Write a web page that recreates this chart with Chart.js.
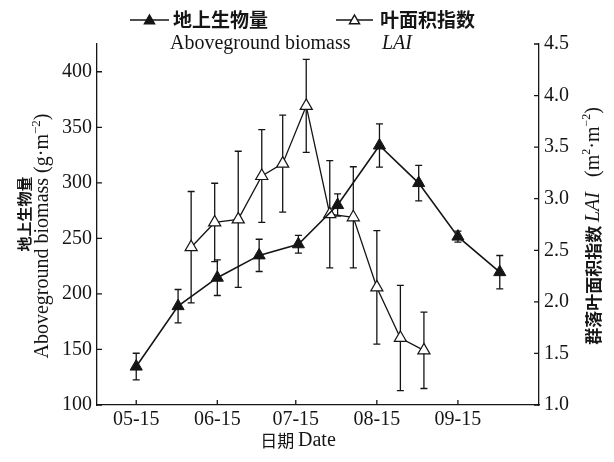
<!DOCTYPE html>
<html>
<head>
<meta charset="utf-8">
<script src="https://cdn.jsdelivr.net/npm/chart.js@4/dist/chart.umd.min.js"></script>
<style>
  html, body { margin:0; padding:0; background:#fff; }
  #wrap { width:614px; height:462px; }
</style>
</head>
<body>
<div id="wrap"><canvas id="cv" width="614" height="462"></canvas></div>
<script>

// day of year for each sampling date
const biomassDays = [135, 151, 166, 182, 197, 212, 228, 243, 258, 274]
const biomassVals = [134.6, 189, 214.6, 234.7, 244.7, 280, 333.6, 299.8, 251.6, 219.6]
const biomassErr  = [12, 15, 16, 14.5, 8, 10, 19.5, 16, 5, 15]

const laiDays = [156, 165, 174, 183, 191, 200, 209, 218, 227, 236, 245]
const laiVals = [2.53, 2.77, 2.80, 3.22, 3.34, 3.90, 2.85, 2.82, 2.14, 1.65, 1.53]
const laiErr  = [0.54, 0.38, 0.66, 0.45, 0.47, 0.45, 0.52, 0.49, 0.55, 0.51, 0.37]

const xTickDays   = [135, 166, 196, 227, 258]
const xTickLabels = ['05-15', '06-15', '07-15', '08-15', '09-15']

const SERIF = '"Liberation Serif", "DejaVu Serif", serif'
const CJK   = '"Noto Sans CJK SC", "Noto Sans", sans-serif'
const INK   = '#151515'


function toPoints(days, vals){
      return days.map((d, i) => ({ x: d, y: vals[i] }))
}


// draw a row of text runs, each with its own font and baseline shift
function drawRuns(ctx, runs, x, y, align){
      let total = 0
      runs.forEach((r)=>{ ctx.font = r.font; r.w = ctx.measureText(r.text).width; total += r.w })
      let cx = align === 'center' ? x - total/2 : x
      ctx.textBaseline = 'middle'
      ctx.textAlign = 'left'
      runs.forEach((r)=>{
            ctx.font = r.font
            ctx.fillText(r.text, cx, y + (r.dy || 0))
            cx += r.w
      })
}


function legendMark(ctx, x0, x1, y, filled){
      ctx.beginPath()
      ctx.moveTo(x0, y); ctx.lineTo(x1, y)
      ctx.stroke()
      const cx = (x0 + x1)/2, s = 5
      ctx.beginPath()
      ctx.moveTo(cx, y - s)
      ctx.lineTo(cx + s, y + s*0.75)
      ctx.lineTo(cx - s, y + s*0.75)
      ctx.closePath()
      ctx.fillStyle = filled ? INK : '#fff'
      ctx.fill()
      ctx.stroke()
      ctx.fillStyle = INK
}


const errorBars = {
      id: 'errorBars',
      beforeDatasetsDraw(chart){
            const ctx = chart.ctx
            ctx.save()
            ctx.strokeStyle = INK
            ctx.lineWidth = 1.3
            chart.data.datasets.forEach((ds, di)=>{
                  const meta = chart.getDatasetMeta(di)
                  const yScale = chart.scales[meta.yAxisID]
                  meta.data.forEach((pt, i)=>{
                        const v = ds.data[i].y, e = ds.errors[i]
                        const top = yScale.getPixelForValue(v + e)
                        const bot = yScale.getPixelForValue(v - e)
                        ctx.beginPath()
                        ctx.moveTo(pt.x, top); ctx.lineTo(pt.x, bot)
                        ctx.moveTo(pt.x - 3.5, top); ctx.lineTo(pt.x + 3.5, top)
                        ctx.moveTo(pt.x - 3.5, bot); ctx.lineTo(pt.x + 3.5, bot)
                        ctx.stroke()
                  })
            })
            ctx.restore()
      }
}


// inward tick marks, legend and axis titles
const decorations = {
      id: 'decorations',
      afterDraw(chart){
            const ctx = chart.ctx
            const a = chart.chartArea
            const sx = chart.scales.x, sl = chart.scales.yL, sr = chart.scales.yR
            ctx.save()
            ctx.strokeStyle = INK
            ctx.fillStyle = INK
            ctx.lineWidth = 1.3

            ctx.beginPath()
            sx.ticks.forEach((t)=>{ const p = sx.getPixelForValue(t.value); ctx.moveTo(p, a.bottom); ctx.lineTo(p, a.bottom - 5) })
            sl.ticks.forEach((t)=>{ const p = sl.getPixelForValue(t.value); ctx.moveTo(a.left, p); ctx.lineTo(a.left + 5, p) })
            sr.ticks.forEach((t)=>{ const p = sr.getPixelForValue(t.value); ctx.moveTo(a.right, p); ctx.lineTo(a.right - 5, p) })
            ctx.stroke()

            // legend
            ctx.lineWidth = 1.5
            legendMark(ctx, 130, 169, 20, true)
            legendMark(ctx, 336, 373, 20, false)
            drawRuns(ctx, [{ text: '地上生物量', font: 'bold 19px ' + CJK }], 173, 20)
            drawRuns(ctx, [{ text: '叶面积指数', font: 'bold 19px ' + CJK }], 380, 20)
            drawRuns(ctx, [{ text: 'Aboveground biomass', font: '20px ' + SERIF }], 170, 44)
            drawRuns(ctx, [{ text: 'LAI', font: 'italic 20px ' + SERIF }], 382, 44)

            // x title
            drawRuns(ctx, [
                  { text: '日期 ', font: '17px ' + CJK },
                  { text: 'Date', font: '20px ' + SERIF }
            ], 298, 441, 'center')

            // left titles
            ctx.save()
            ctx.translate(24, 214); ctx.rotate(-Math.PI/2)
            drawRuns(ctx, [{ text: '地上生物量', font: 'bold 15px ' + CJK }], 0, 0, 'center')
            ctx.restore()

            ctx.save()
            ctx.translate(43, 236); ctx.rotate(-Math.PI/2)
            drawRuns(ctx, [
                  { text: 'Aboveground biomass (g·m', font: '20px ' + SERIF },
                  { text: '−2', font: '13px ' + SERIF, dy: -6 },
                  { text: ')', font: '20px ' + SERIF }
            ], 0, 0, 'center')
            ctx.restore()

            // right title
            ctx.save()
            ctx.translate(594, 226); ctx.rotate(-Math.PI/2)
            drawRuns(ctx, [
                  { text: '群落叶面积指数 ', font: 'bold 17px ' + CJK },
                  { text: 'LAI', font: 'italic 20px ' + SERIF },
                  { text: '   (m', font: '20px ' + SERIF },
                  { text: '2', font: '12px ' + SERIF, dy: -7 },
                  { text: '·m', font: '20px ' + SERIF },
                  { text: '−2', font: '12px ' + SERIF, dy: -7 },
                  { text: ')', font: '20px ' + SERIF }
            ], 0, 0, 'center')
            ctx.restore()

            ctx.restore()
      }
}


const tickFont = { family: SERIF, size: 20 }
const axisBorder = { display: true, color: INK, width: 1.3 }

const setup = {
      type: 'line',
      data: {
            datasets: [
                  {
                        label: '地上生物量',
                        data: toPoints(biomassDays, biomassVals),
                        errors: biomassErr,
                        yAxisID: 'yL',
                        borderColor: INK,
                        borderWidth: 1.6,
                        pointStyle: 'triangle',
                        pointRadius: 7,
                        pointBackgroundColor: INK,
                        pointBorderColor: INK,
                        pointBorderWidth: 1,
                        tension: 0,
                        order: 0
                  },
                  {
                        label: '叶面积指数',
                        data: toPoints(laiDays, laiVals),
                        errors: laiErr,
                        yAxisID: 'yR',
                        borderColor: INK,
                        borderWidth: 1.3,
                        pointStyle: 'triangle',
                        pointRadius: 7,
                        pointBackgroundColor: '#fff',
                        pointBorderColor: INK,
                        pointBorderWidth: 1.2,
                        tension: 0,
                        order: 1
                  }
            ]
      },
      options: {
            responsive: false,
            animation: false,
            layout: { padding: { top: 44, left: 0, right: 0, bottom: 0 } },
            plugins: {
                  legend: { display: false },
                  tooltip: { enabled: false },
                  title: { display: false }
            },
            scales: {
                  x: {
                        type: 'linear',
                        min: 120, max: 289,
                        grid: { display: false, drawTicks: false },
                        border: axisBorder,
                        afterBuildTicks: (s)=>{ s.ticks = xTickDays.map(v => ({ value: v })) },
                        afterFit: (s)=>{ s.height = 57 },
                        ticks: {
                              font: tickFont, color: INK, padding: 3, maxRotation: 0,
                              callback: (v)=> xTickLabels[xTickDays.indexOf(v)]
                        }
                  },
                  yL: {
                        position: 'left',
                        min: 100, max: 425,
                        grid: { display: false, drawTicks: false },
                        border: axisBorder,
                        afterBuildTicks: (s)=>{ s.ticks = s.ticks.filter(t => t.value <= 400) },
                        afterFit: (s)=>{ s.width = 97 },
                        ticks: { stepSize: 50, font: tickFont, color: INK, padding: 5 }
                  },
                  yR: {
                        position: 'right',
                        min: 1, max: 4.5,
                        grid: { display: false, drawTicks: false },
                        border: axisBorder,
                        afterFit: (s)=>{ s.width = 75 },
                        ticks: {
                              stepSize: 0.5, font: tickFont, color: INK, padding: 5,
                              callback: (v)=> v.toFixed(1)
                        }
                  }
            }
      },
      plugins: [errorBars, decorations]
}

new Chart(document.getElementById('cv'), setup)

</script>
</body>
</html>
